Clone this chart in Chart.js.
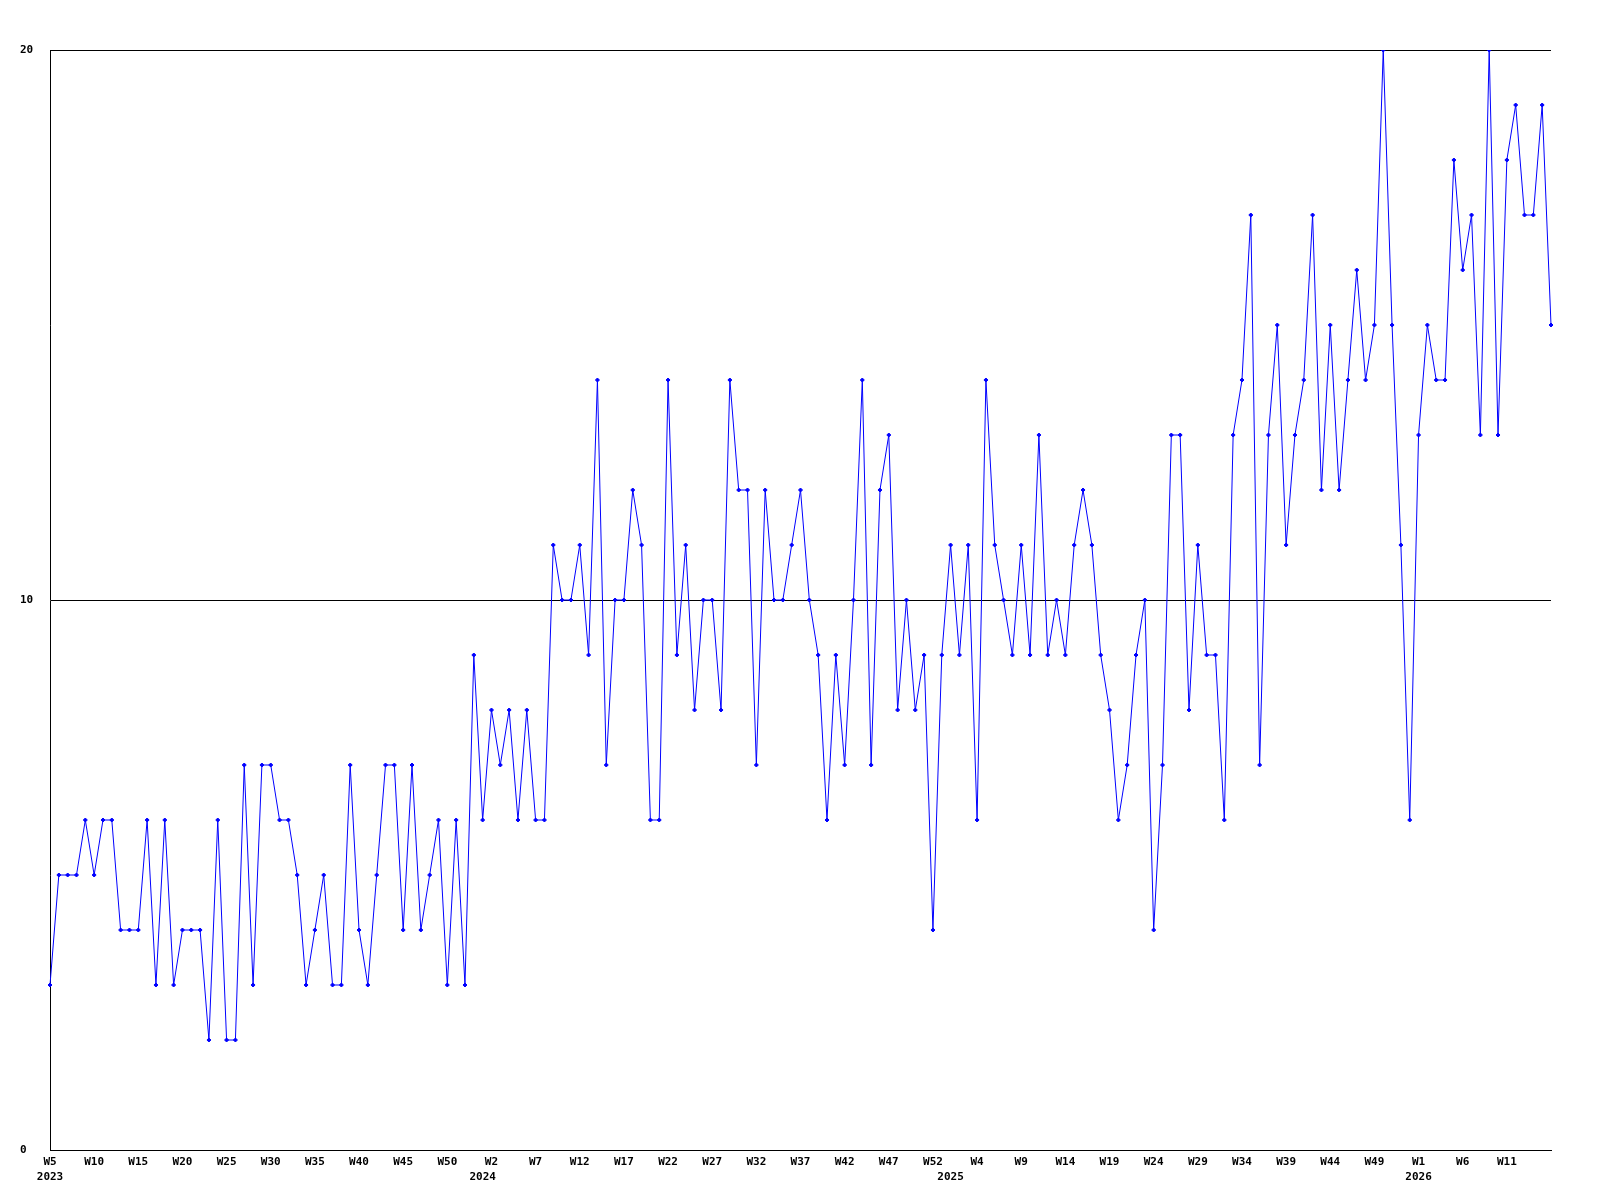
<!DOCTYPE html>
<html>
<head>
<meta charset="utf-8">
<title>Weekly counts</title>
<script src="https://cdn.jsdelivr.net/npm/chart.js@4/dist/chart.umd.min.js"></script>
<style>
  html, body { margin: 0; padding: 0; background: #fff; }
  canvas { display: block; }
</style>
</head>
<body>
<canvas id="weekly" width="1600" height="1200"></canvas>
<script>
// weekly values, one array per year
const counts2023 = [3, 5, 5, 5, 6, 5, 6, 6, 4, 4, 4, 6, 3, 6, 3, 4, 4, 4, 2, 6,
  2, 2, 7, 3, 7, 7, 6, 6, 5, 3, 4, 5, 3, 3, 7, 4, 3, 5, 7, 7,
  4, 7, 4, 5, 6, 3, 6, 3, 9];
const counts2024 = [6, 8, 7, 8, 6, 8, 6, 6, 11, 10, 10, 11, 9, 14, 7, 10, 10, 12, 11, 6,
  6, 14, 9, 11, 8, 10, 10, 8, 14, 12, 12, 7, 12, 10, 10, 11, 12, 10, 9, 6,
  9, 7, 10, 14, 7, 12, 13, 8, 10, 8, 9, 4, 9];
const counts2025 = [11, 9, 11, 6, 14, 11, 10, 9, 11, 9, 13, 9, 10, 9, 11, 12, 11, 9, 8, 6,
  7, 9, 10, 4, 7, 13, 13, 8, 11, 9, 9, 6, 13, 14, 17, 7, 13, 15, 11, 13,
  14, 17, 12, 15, 12, 14, 16, 14, 15, 20, 15, 11, 6];
const counts2026 = [13, 15, 14, 14, 18, 16, 17, 13, 20, 13, 18, 19, 17, 17, 19, 15];

const years = [2023, 2024, 2025, 2026];
const firstWeek = [5, 1, 1, 1];
const yearCounts = [counts2023, counts2024, counts2025, counts2026];
const yTicks = [0, 10, 20];

const weeks = [];
const values = [];
const yearAt = {};   // index of the tick that carries the year label
yearCounts.forEach((arr, y) => {
  yearAt[weeks.length] = years[y];
  arr.forEach((v, i) => {
    weeks.push('W' + (firstWeek[y] + i));
    values.push(v);
  });
});

const labelEvery = 5;
const font = { family: '"DejaVu Sans Mono", monospace', size: 11, weight: 'bold', lineHeight: '15px' };

new Chart(document.getElementById('weekly'), {
  type: 'line',
  data: {
    labels: weeks,
    datasets: [{
      data: values,
      borderColor: '#0000ff',
      backgroundColor: '#0000ff',
      borderWidth: 1,
      tension: 0,
      fill: false,
      pointStyle: 'rectRot',
      pointRadius: 2,
      pointBorderWidth: 1,
      pointHoverRadius: 2
    }]
  },
  options: {
    responsive: false,
    animation: false,
    layout: { padding: { left: 20, top: 50, right: 49, bottom: 0 } },
    plugins: { legend: { display: false }, tooltip: { enabled: false } },
    scales: {
      x: {
        offset: false,
        grid: { display: false, drawTicks: false },
        border: { display: true, color: '#000', width: 1 },
        afterFit: s => { s.height = 50; },
        ticks: {
          autoSkip: false,
          maxRotation: 0,
          padding: 5,
          color: '#000',
          font: font,
          callback: function (val, i) {
            const week = (i % labelEvery === 0 && i < weeks.length - 1) ? weeks[i] : '';
            return yearAt[i] ? [week, String(yearAt[i])] : week;
          }
        }
      },
      y: {
        min: yTicks[0],
        max: yTicks[yTicks.length - 1],
        afterBuildTicks: s => { s.ticks = yTicks.map(v => ({ value: v })); },
        afterFit: s => { s.width = 30; },
        grid: { color: '#000', lineWidth: 1, drawTicks: false },
        border: { display: true, color: '#000', width: 1 },
        ticks: {
          crossAlign: 'far',
          padding: 0,
          color: '#000',
          font: font
        }
      }
    }
  }
});
</script>
</body>
</html>
